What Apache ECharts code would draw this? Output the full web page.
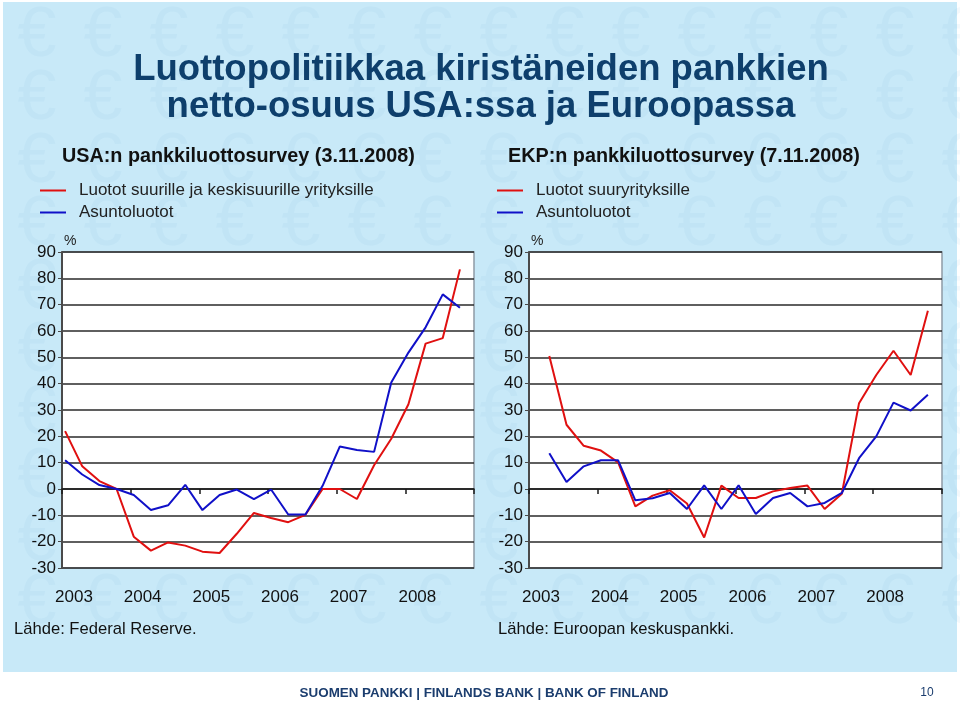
<!DOCTYPE html>
<html>
<head>
<meta charset="utf-8">
<script src="https://cdn.jsdelivr.net/npm/echarts@6/dist/echarts.min.js"></script>
<style>
html,body{margin:0;padding:0;background:#fff;}
#c{width:960px;height:701px;}
</style>
</head>
<body>
<div id="c"></div>
<script>
// ---------- DATA ----------
const yearLabels = ['2003', '2004', '2005', '2006', '2007', '2008'];

// USA (Federal Reserve), quarterly 2003Q1 - 2008Q4
const usQuarters = ['2003Q1','2003Q2','2003Q3','2003Q4','2004Q1','2004Q2','2004Q3','2004Q4',
  '2005Q1','2005Q2','2005Q3','2005Q4','2006Q1','2006Q2','2006Q3','2006Q4',
  '2007Q1','2007Q2','2007Q3','2007Q4','2008Q1','2008Q2','2008Q3','2008Q4'];
const usCorporate = [22, 8.6, 3, 0, -18.1, -23.4, -20.3, -21.5, -23.8, -24.3, -17, -9.1,
  -11, -12.6, -9.8, 0, 0, -3.8, 9, 19.1, 32.2, 55.2, 57.3, 83.4];
const usHousing = [10.9, 5.5, 1.5, 0, -2.3, -8, -6.2, 1.6, -8, -2.3, -0.2, -3.8,
  -0.2, -9.7, -9.7, 1.2, 16.1, 14.8, 14.1, 40.4, 51.8, 61.4, 73.9, 68.8];

// Euro area (ECB), quarterly 2003Q2 - 2008Q4
const euQuarters = ['2003Q2','2003Q3','2003Q4','2004Q1','2004Q2','2004Q3','2004Q4',
  '2005Q1','2005Q2','2005Q3','2005Q4','2006Q1','2006Q2','2006Q3','2006Q4',
  '2007Q1','2007Q2','2007Q3','2007Q4','2008Q1','2008Q2','2008Q3','2008Q4'];
const euCorporate = [50.5, 24.4, 16.4, 14.6, 10.1, -6.6, -2.5, -0.5, -5.5, -18.4, 1.3, -3.4,
  -3.4, -0.9, 0.4, 1.3, -7.6, -1.8, 32.6, 43.3, 52.5, 43.3, 67.7];
const euHousing = [13.6, 2.7, 8.6, 10.9, 10.9, -4.3, -3.5, -1.5, -7.6, 1.4, -7.6, 1.4,
  -9.5, -3.4, -1.5, -6.6, -5.3, -1.5, 11.7, 20, 32.8, 29.8, 35.8];

const yMin = -30, yMax = 90, yStep = 10;

const usNames = ['Luotot suurille ja keskisuurille yrityksille', 'Asuntoluotot'];
const euNames = ['Luotot suuryrityksille', 'Asuntoluotot'];

// ---------- helpers ----------
function qToX(q) {            // quarter label -> decimal year on the time axis
  const y = parseInt(q.slice(0, 4), 10);
  const n = parseInt(q.slice(5), 10);
  return y + (n - 1) / 4 + 0.045;
}
function pairs(qs, vals) { return qs.map((q, i) => [qToX(q), vals[i]]); }

const FONT = '"Liberation Sans", Arial, sans-serif';
const RED = '#e01010', BLUE = '#1010c8';
const xMin = +yearLabels[0], xMax = +yearLabels[yearLabels.length - 1] + 1;

function dataXAxis(g) {
  return {
    type: 'value', gridIndex: g, min: xMin, max: xMax, interval: 1, position: 'bottom',
    axisLine: { show: true, onZero: true, lineStyle: { color: '#1a1a1a', width: 1.5 } },
    axisTick: { show: true, length: 5, lineStyle: { color: '#1a1a1a', width: 1.5 } },
    axisLabel: { show: false }, splitLine: { show: false }
  };
}
function labelXAxis(g) {
  return {
    type: 'value', gridIndex: g, min: xMin, max: xMax, interval: 1, position: 'bottom',
    axisLine: { show: false, onZero: false }, axisTick: { show: false }, splitLine: { show: false },
    axisLabel: {
      show: true, fontSize: 17, fontFamily: FONT, color: '#111', margin: 21,
      padding: [0, 0, 0, 24],
      formatter: v => (yearLabels.indexOf(String(v)) >= 0 ? String(v) : '')
    }
  };
}
function yAx(g) {
  return {
    type: 'value', gridIndex: g, min: yMin, max: yMax, interval: yStep,
    name: '%', nameLocation: 'end', nameGap: 4,
    nameTextStyle: { fontSize: 14, fontFamily: FONT, color: '#222', align: 'left', padding: [0, 0, 0, 2] },
    axisLine: { show: true, lineStyle: { color: '#4a4a4a', width: 2 } },
    axisTick: { show: true, length: 4, lineStyle: { color: '#4a4a4a', width: 1 } },
    axisLabel: { fontSize: 17, fontFamily: FONT, color: '#111', margin: 6 },
    splitLine: { show: true, lineStyle: { color: '#2a2a2a', width: 1.5 } }
  };
}
function lineSeries(name, data, color, xi, yi) {
  return {
    type: 'line', name, data, xAxisIndex: xi, yAxisIndex: yi,
    showSymbol: false, symbol: 'none', animation: false,
    lineStyle: { color, width: 2 }, itemStyle: { color }
  };
}

// decorative background (faint euro pattern)
const graphics = [];
graphics.push({ type: 'rect', z: -100, shape: { x: 3, y: 2, width: 954, height: 670 },
  style: { fill: '#c8e9f8' } });
for (let r = 0; r < 10; r++) {
  for (let c = 0; c < 15; c++) {
    graphics.push({ type: 'text', z: -99, x: 37 + 66 * c, y: 37 + 63 * r,
      style: { text: '€', fontSize: 70, fontFamily: FONT, fill: 'rgba(110,175,220,0.08)',
        textAlign: 'center', textVerticalAlign: 'middle' } });
  }
}
function txt(text, x, y, size, opts) {
  return Object.assign({ type: 'text', z: 10, x, y,
    style: Object.assign({ text, fontSize: size, fontFamily: FONT, fill: '#111',
      textAlign: 'left', textVerticalAlign: 'middle' }, opts || {}) });
}
graphics.push(txt('Luottopolitiikkaa kiristäneiden pankkien', 481, 70, 36.5,
  { fontWeight: 'bold', fill: '#0e3f6c', textAlign: 'center' }));
graphics.push(txt('netto-osuus USA:ssa ja Euroopassa', 481, 107, 36.5,
  { fontWeight: 'bold', fill: '#0e3f6c', textAlign: 'center' }));
graphics.push(txt('USA:n pankkiluottosurvey (3.11.2008)', 62, 157, 19.8, { fontWeight: 'bold' }));
graphics.push(txt('EKP:n pankkiluottosurvey (7.11.2008)', 508, 157, 19.8, { fontWeight: 'bold' }));
graphics.push(txt('Lähde: Federal Reserve.', 14, 629, 16.6));
graphics.push(txt('Lähde: Euroopan keskuspankki.', 498, 629, 16.6));
graphics.push(txt('SUOMEN PANKKI | FINLANDS BANK | BANK OF FINLAND', 484, 693, 13.4,
  { fontWeight: 'bold', fill: '#1b3d6e', textAlign: 'center' }));
graphics.push(txt('10', 927, 693, 12, { fill: '#1b3d6e', textAlign: 'center' }));

function legend(left, names) {
  return {
    left, top: 182, orient: 'vertical', icon: 'rect', itemWidth: 26, itemHeight: 2,
    itemGap: 5, padding: 0, selectedMode: false, data: names,
    textStyle: { fontSize: 17, fontFamily: FONT, color: '#222', padding: [0, 0, 0, 8] }
  };
}

const option = {
  backgroundColor: '#ffffff',
  animation: false,
  graphic: graphics,
  legend: [legend(40, usNames), legend(497, euNames)],
  grid: [
    { left: 62, right: 486, top: 252, bottom: 133, show: true, backgroundColor: '#fff',
      borderColor: '#8f9ba5', borderWidth: 1.5 },
    { left: 529, right: 18, top: 252, bottom: 133, show: true, backgroundColor: '#fff',
      borderColor: '#8f9ba5', borderWidth: 1.5 }
  ],
  xAxis: [dataXAxis(0), labelXAxis(0), dataXAxis(1), labelXAxis(1)],
  yAxis: [yAx(0), yAx(1)],
  series: [
    lineSeries(usNames[0], pairs(usQuarters, usCorporate), RED, 0, 0),
    lineSeries(usNames[1], pairs(usQuarters, usHousing), BLUE, 0, 0),
    lineSeries(euNames[0], pairs(euQuarters, euCorporate), RED, 2, 1),
    lineSeries(euNames[1], pairs(euQuarters, euHousing), BLUE, 2, 1)
  ]
};

const chart = echarts.init(document.getElementById('c'), null, { renderer: 'canvas' });
chart.setOption(option);
</script>
</body>
</html>
